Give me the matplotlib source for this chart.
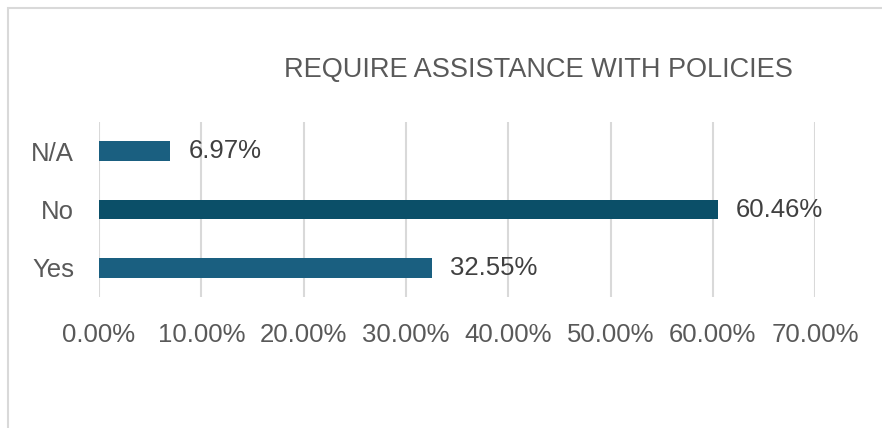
import matplotlib.pyplot as plt
from matplotlib.patches import Rectangle
from matplotlib.ticker import FuncFormatter

categories = ["Yes", "No", "N/A"]
values = [32.55, 60.46, 6.97]
colors = ["#1a5f80", "#0b4f68", "#1a5f80"]
ticks = [0, 10, 20, 30, 40, 50, 60, 70]

plt.rcParams['font.family'] = ['Liberation Sans', 'DejaVu Sans']
text_color = "#595959"

fig = plt.figure(figsize=(8.82, 4.28), dpi=100)
ax = fig.add_axes([0.1122, 0.306, 0.812, 0.409])

bars = ax.barh(categories, values, height=0.34, color=colors, zorder=3)
for bar, v in zip(bars, values):
    ax.text(v + 1.8, bar.get_y() + bar.get_height() / 2, f"{v:.2f}%",
            va="center", ha="left", fontsize=18.5, color="#404040", zorder=4)

ax.set_xlim(0, 70)
ax.set_ylim(-0.5, 2.5)
ax.set_xticks(ticks)
ax.xaxis.set_major_formatter(FuncFormatter(lambda x, p: f"{x:.2f}%"))
ax.grid(axis="x", color="#d9d9d9", linewidth=1.5, zorder=0)
for s in ax.spines.values():
    s.set_visible(False)
ax.tick_params(axis="both", length=0, labelsize=18.5, labelcolor=text_color)
ax.tick_params(axis="x", pad=19)
ax.tick_params(axis="y", pad=18)

fig.text(0.611, 0.836, "REQUIRE ASSISTANCE WITH POLICIES", ha="center", va="center",
         fontsize=19.5, color=text_color)

# chart area border (left/top edges visible)
fig.patches.append(Rectangle((8 / 882, -0.05), 1.0, 1 - 8 / 428 + 0.05,
                             transform=fig.transFigure, fill=False,
                             edgecolor="#d9d9d9", linewidth=1.5))

fig.savefig("out.png", dpi=100)
